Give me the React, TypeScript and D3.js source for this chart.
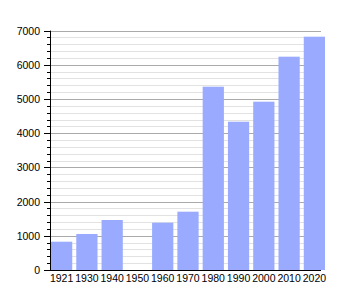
import React from "react";
import * as d3 from "d3";

const years = ["1921", "1930", "1940", "1950", "1960", "1970", "1980", "1990", "2000", "2010", "2020"];
const population = [827, 1053, 1462, 0, 1383, 1705, 5360, 4336, 4921, 6237, 6822];
const yTicks = [0, 1000, 2000, 3000, 4000, 5000, 6000, 7000];

export default function App() {
  const W = 350, H = 300;
  const left = 50, right = 321, top = 30.6, bottom = 270;
  const x = d3.scaleBand<string>().domain(years).range([51, 325]).paddingInner(0.16).paddingOuter(0);
  const y = d3.scaleLinear().domain([0, 7000]).range([bottom, top]);
  const minor = d3.range(0, 7001, 200).filter((v) => v % 1000 !== 0);
  const font = "'Liberation Sans', Arial, sans-serif";
  return (
    <svg width={W} height={H} style={{ position: "absolute", left: 0, top: 0, background: "#fff" }}>
      {minor.map((v) => (
        <g key={"m" + v}>
          <line x1={left} x2={right} y1={Math.round(y(v)) + 0.5} y2={Math.round(y(v)) + 0.5} stroke="#e2e2e2" />
          <line x1={left - 3} x2={left} y1={Math.round(y(v)) + 0.5} y2={Math.round(y(v)) + 0.5} stroke="#000" />
        </g>
      ))}
      {yTicks.map((v) => (
        <g key={"M" + v}>
          {v > 0 && (
            <line x1={left} x2={right} y1={Math.round(y(v)) + 0.5} y2={Math.round(y(v)) + 0.5} stroke="#aaaaaa" />
          )}
          <line x1={left - 6} x2={left} y1={Math.round(y(v)) + 0.5} y2={Math.round(y(v)) + 0.5} stroke="#000" />
          <text x={40} y={y(v) + 4} textAnchor="end" fontSize={10.5} fontFamily={font} fill="#000">
            {v}
          </text>
        </g>
      ))}
      {years.map((yr, i) =>
        population[i] > 0 ? (
          <rect
            key={yr}
            x={x(yr)!}
            y={y(population[i])}
            width={x.bandwidth()}
            height={bottom - y(population[i])}
            fill="#99aaff"
          />
        ) : null
      )}
      <line x1={left + 0.5} x2={left + 0.5} y1={top} y2={bottom} stroke="#000" />
      <line x1={left} x2={right} y1={bottom + 0.5} y2={bottom + 0.5} stroke="#000" />
      {years.map((yr) => (
        <text
          key={"t" + yr}
          x={x(yr)! + x.bandwidth() / 2}
          y={282}
          textAnchor="middle"
          fontSize={10.5}
          fontFamily={font}
          fill="#000"
        >
          {yr}
        </text>
      ))}
    </svg>
  );
}
